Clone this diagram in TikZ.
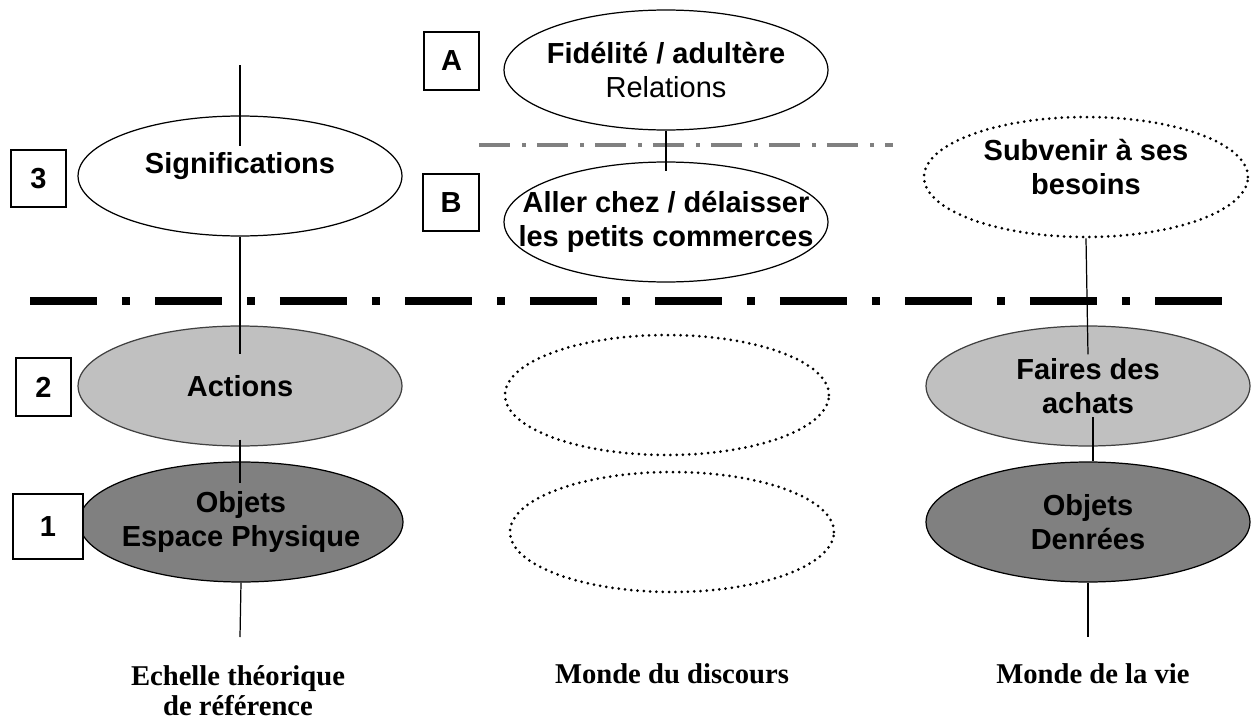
\documentclass[tikz,border=0pt]{standalone}
\usepackage{fontspec}
\setmainfont{Liberation Serif}
\newfontfamily\sansfont{Liberation Sans}
\usetikzlibrary{shapes.geometric,calc}

\definecolor{lightfill}{RGB}{192,192,192}
\definecolor{darkfill}{RGB}{128,128,128}
\definecolor{rulegrey}{RGB}{128,128,128}

\begin{document}
\begin{tikzpicture}[x=0.02cm,y=-0.02cm,
  oval/.style={ellipse, draw=black, line width=0.7pt, inner sep=0pt,
               minimum width=6.48cm, minimum height=2.4cm},
  plainoval/.style={oval, fill=white},
  lightoval/.style={oval, fill=lightfill, draw=black!75},
  darkoval/.style={oval, fill=darkfill},
  ghostoval/.style={oval, line width=0.06cm, line cap=round,
                    dash pattern=on 0pt off 0.126cm},
  txt/.style={font=\sansfont\fontsize{16.5}{19.3}\selectfont\bfseries,
              align=center, inner sep=0pt},
  numbox/.style={draw=black, line width=0.7pt, fill=white, txt},
  link/.style={line width=0.7pt},
  caption/.style={font=\fontsize{16.3}{17}\selectfont\bfseries,
                  inner sep=0pt, anchor=base},
]
% canvas
\fill[white] (0,0) rectangle (1252,720);
\useasboundingbox (0,0) rectangle (1252,720);

% level separators
\draw[rulegrey, line width=0.08cm,
      dash pattern=on 0.62cm off 0.25cm on 0.08cm off 0.21cm]
  (479,145) -- (893,145);
\draw[black, line width=0.16cm,
      dash pattern=on 1.34cm off 0.5cm on 0.16cm off 0.5cm]
  (30,301) -- (1222,301);

% left column: theoretical scale
\node[plainoval, label={[txt, yshift=0.2cm]center:{Significations}}] (sig) at (240,176) {};
\node[lightoval, label={[txt]center:{Actions}}] (act) at (240,386) {};
\node[darkoval, label={[txt]center:{Objets\\Espace Physique}}] (objL) at (241,522) {};

% middle column: discourse
\node[plainoval, label={[txt]center:{Fidélité / adultère\\\mdseries Relations}}] (fid) at (666,70) {};
\node[plainoval, label={[txt]center:{Aller chez / délaisser\\les petits commerces}}] (pet) at (666,222) {};
\node[ghostoval] (midA) at (667,395) {};
\node[ghostoval] (midB) at (672,532) {};

% right column: life world
\node[ghostoval, label={[txt, yshift=0.2cm]center:{Subvenir à ses\\besoins}}] (sub) at (1086,177) {};
\node[lightoval, label={[txt]center:{Faires des\\achats}}] (fai) at (1088,386) {};
\node[darkoval, label={[txt]center:{Objets\\Denrées}}] (objR) at (1088,522) {};

% level numbers
\node[numbox, minimum width=1.1cm, minimum height=1.14cm] (n3) at (38.5,178.5) {3};
\node[numbox, minimum width=1.1cm, minimum height=1.16cm] (n2) at (43.5,387) {2};
\node[numbox, minimum width=1.4cm, minimum height=1.3cm] (n1) at (48,526.5) {1};
\node[numbox, minimum width=1.1cm, minimum height=1.16cm] (nA) at (451.5,61) {A};
\node[numbox, minimum width=1.12cm, minimum height=1.14cm] (nB) at (451,202.5) {B};

% connectors
\coordinate (topL) at (240,65);
\coordinate (botL) at (240,637);
\coordinate (botR) at (1088,637);
\draw[link] (topL) -- ($(sig.north)+(0,31)$);
\draw[link] (sig.south) -- ($(act.north)+(0,29)$);
\draw[link] ($(act.south)+(0,-7)$) -- ($(objL.north)+(-1,22)$);
\draw[link] (objL.south) -- (botL);
\draw[link] (fid.south) -- ($(pet.north)+(0,10)$);
\draw[link] (sub.south) -- ($(fai.north)+(0,29)$);
\draw[link] ($(fai.center)+(5,31)$) -- ($(objR.north)+(5,0)$);
\draw[link] (objR.south) -- (botR);

% column captions
\node[caption] (capLa) at (238,685) {Echelle théorique};
\node[caption] (capLb) at (238,715) {de référence};
\node[caption] (capM) at (672,683) {Monde du discours};
\node[caption] (capR) at (1093,683) {Monde de la vie};
\end{tikzpicture}
\end{document}
